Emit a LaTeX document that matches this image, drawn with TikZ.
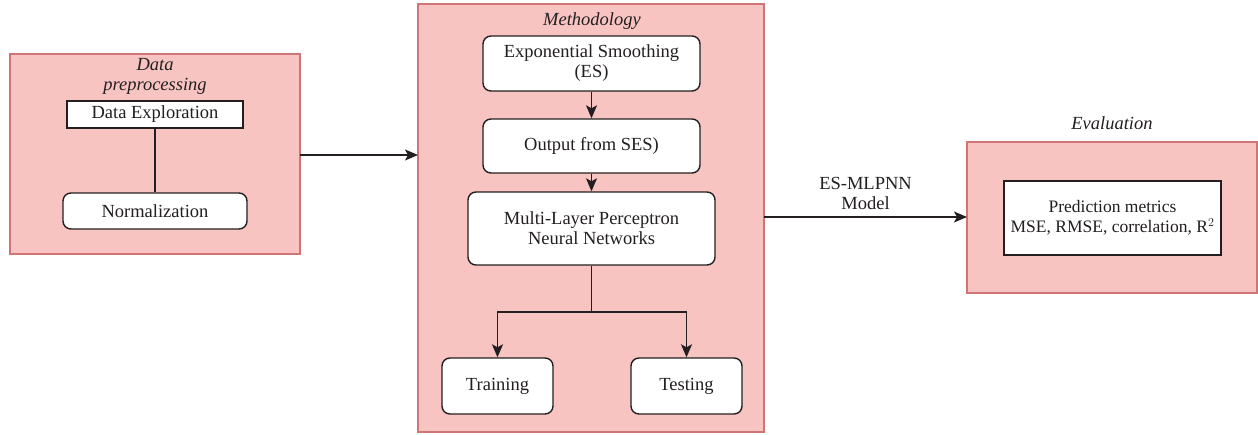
\documentclass[tikz,border=0pt]{standalone}
\usepackage{fontspec}
\setmainfont{Liberation Serif}
\usetikzlibrary{arrows.meta}
\definecolor{pinkfill}{HTML}{F8C4C2}
\definecolor{pinkdraw}{HTML}{CF7575}
\definecolor{ink}{HTML}{231F20}
\tikzset{
  group/.style={draw=pinkdraw, fill=pinkfill, line width=1.3pt},
  rbox/.style={draw=ink, fill=white, line width=1.4pt, rounded corners=8pt},
  sbox/.style={draw=ink, fill=white, line width=1.4pt},
  txt/.style={text=ink, font=\fontsize{18.5}{20}\selectfont, align=center},
  smalltxt/.style={text=ink, font=\fontsize{17.5}{19.5}\selectfont, align=center},
  ttl/.style={text=ink, font=\fontsize{18.5}{20}\selectfont\itshape, align=center},
  conn/.style={draw=ink, line width=1.4pt},
  arr/.style={conn, -{Stealth[length=13pt,width=11pt,inset=3pt]}},
}
\begin{document}
\begin{tikzpicture}[x=1pt,y=-1pt]
\useasboundingbox (0,0) rectangle (1258,434);
% groups
\draw[group] (10,54) rectangle (300,254);
\draw[group] (418,4) rectangle (764,432);
\draw[group] (967,142) rectangle (1257,293);
\node[ttl] (tdp) at (155,76) {Data\\preprocessing};
\node[ttl] (tm) at (592,21) {Methodology};
\node[ttl] (te) at (1112,123) {Evaluation};
% data preprocessing
\node[sbox, minimum width=176pt, minimum height=27pt] (de) at (155,114.5) {};
\node[txt] at (de) {Data Exploration};
\node[rbox, minimum width=184pt, minimum height=36pt] (norm) at (155,211) {};
\node[txt] at (norm) {Normalization};
\draw[conn] (de.south) -- (norm.north);
% methodology
\node[rbox, minimum width=217pt, minimum height=55pt] (es) at (591.5,63.5) {};
\node[txt] at (es) {Exponential Smoothing\\(ES)};
\node[rbox, minimum width=217pt, minimum height=54pt] (out) at (591.5,146) {};
\node[txt] at (out) {Output from SES)};
\node[rbox, minimum width=247pt, minimum height=73pt] (mlp) at (591.5,228.5) {};
\node[txt] at (mlp) {Multi-Layer Perceptron\\Neural Networks};
\node[rbox, minimum width=111pt, minimum height=56pt] (train) at (497.5,386) {};
\node[txt] at (train) {Training};
\node[rbox, minimum width=111pt, minimum height=56pt] (test) at (686.5,386) {};
\node[txt] at (test) {Testing};
\coordinate (split) at (591.5,312);
\draw[arr] (es.south) -- (out.north);
\draw[arr] (out.south) -- (mlp.north);
\draw[conn] (mlp.south) -- (split);
\draw[arr] (split) -| (train.north);
\draw[arr] (split) -| (test.north);
% evaluation
\node[sbox, minimum width=217pt, minimum height=74pt] (pm) at (1112.5,218) {};
\node[smalltxt] at (pm) {Prediction metrics\\MSE, RMSE, correlation, R$^{2}$};
% inter-group arrows
\coordinate (dpR) at (300,155);
\coordinate (mL) at (418,155);
\draw[arr] (dpR) -- (mL);
\coordinate (mR) at (764,217);
\coordinate (eL) at (967,217);
\draw[arr] (mR) -- node[txt, above=3pt] {ES-MLPNN\\Model} (eL);
\end{tikzpicture}
\end{document}
